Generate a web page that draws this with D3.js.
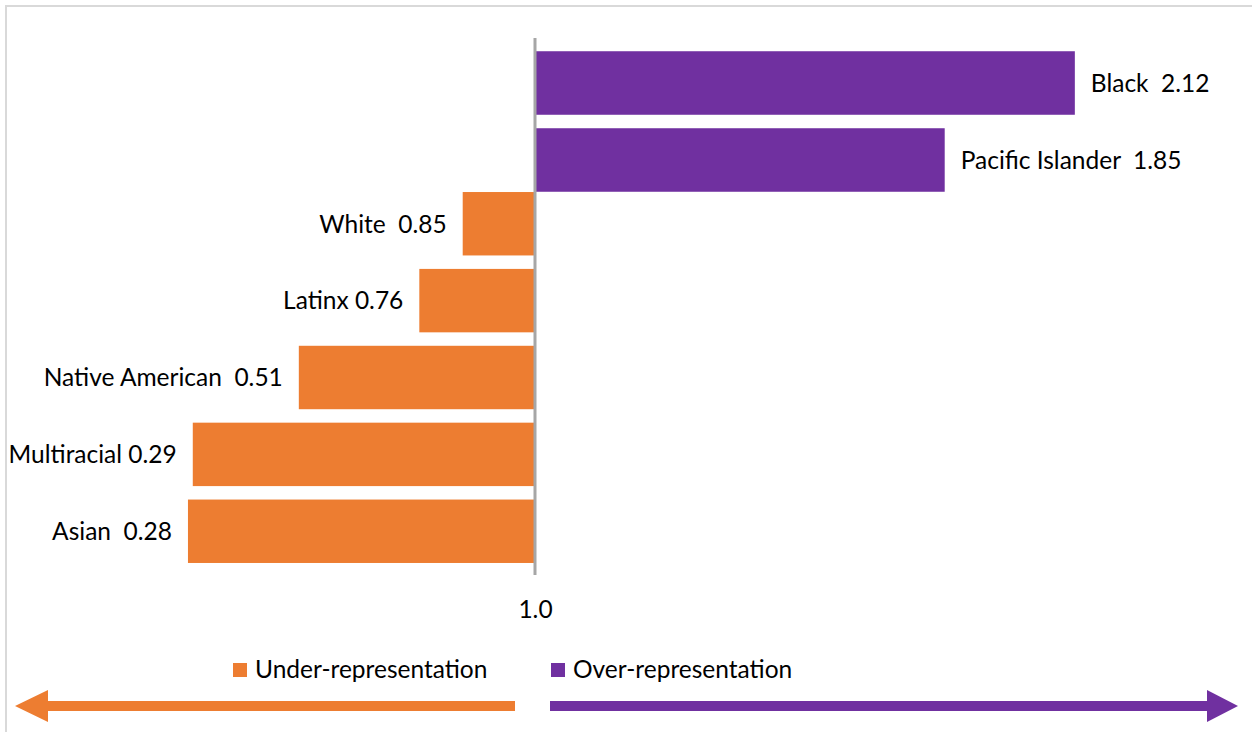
<!DOCTYPE html>
<html>
<head>
<meta charset="utf-8">
<script src="https://cdn.jsdelivr.net/npm/d3@7"></script>
<style>
  html, body { margin: 0; padding: 0; background: #fff; }
  svg { display: block; }
  text { font-family: Lato, "Open Sans", sans-serif; fill: #000; white-space: pre; }
</style>
</head>
<body>
<svg id="chart" width="1252" height="732"></svg>
<script>
// ---- data ----
const overCategories = ["Black", "Pacific Islander"];
const overValues = [2.12, 1.85];
const overLabels = ["Black  2.12", "Pacific Islander  1.85"];

const underCategories = ["White", "Latinx", "Native American", "Multiracial", "Asian"];
const underValues = [0.85, 0.76, 0.51, 0.29, 0.28];
const underLabels = ["White  0.85", "Latinx 0.76", "Native American  0.51", "Multiracial 0.29", "Asian  0.28"];

const tickValues = [1.0];
const legendLabels = ["Under-representation", "Over-representation"];

// ---- styles ----
const ORANGE = "#ED7D31";
const PURPLE = "#7030A0";
const AXIS_GRAY = "#A6A6A6";
const FRAME_GRAY = "#D9D9D9";
const FONT_SIZE = 24.5;

const svg = d3.select("#chart");

// frame
svg.append("rect")
  .attr("x", 6).attr("y", 6)
  .attr("width", 1400).attr("height", 900)
  .attr("fill", "none")
  .attr("stroke", FRAME_GRAY)
  .attr("stroke-width", 2);

// scales
const x = d3.scaleLinear().domain([0, 2.25]).range([53, 1137.5]);
const yOver = d3.scaleBand().domain(overCategories).range([44.5, 198.5]).paddingInner(0.175).paddingOuter(0.0875);
const yUnder = d3.scaleBand().domain(underCategories).range([185.3, 569.7]).paddingInner(0.175).paddingOuter(0.0875);

const overData = overCategories.map((c, i) => ({ c, v: overValues[i], label: overLabels[i] }));
const underData = underCategories.map((c, i) => ({ c, v: underValues[i], label: underLabels[i] }));

// bars
svg.append("g").selectAll("rect").data(overData).join("rect")
  .attr("x", x(1))
  .attr("y", d => yOver(d.c))
  .attr("width", d => x(d.v) - x(1))
  .attr("height", yOver.bandwidth())
  .attr("fill", PURPLE);

svg.append("g").selectAll("rect").data(underData).join("rect")
  .attr("x", d => x(d.v))
  .attr("y", d => yUnder(d.c))
  .attr("width", d => x(1) - x(d.v))
  .attr("height", yUnder.bandwidth())
  .attr("fill", ORANGE);

// labels
svg.append("g").selectAll("text").data(overData).join("text")
  .attr("x", d => x(d.v) + 16)
  .attr("y", d => yOver(d.c) + yOver.bandwidth() / 2)
  .attr("dy", "0.36em")
  .attr("font-size", FONT_SIZE)
  .text(d => d.label);

svg.append("g").selectAll("text").data(underData).join("text")
  .attr("x", d => x(d.v) - 16)
  .attr("y", d => yUnder(d.c) + yUnder.bandwidth() / 2)
  .attr("dy", "0.36em")
  .attr("text-anchor", "end")
  .attr("font-size", FONT_SIZE)
  .text(d => d.label);

// vertical axis line at 1.0
svg.append("line")
  .attr("x1", x(1)).attr("x2", x(1))
  .attr("y1", 38).attr("y2", 575)
  .attr("stroke", AXIS_GRAY)
  .attr("stroke-width", 3);

// tick label
const axis = d3.axisBottom(x).tickValues(tickValues).tickFormat(d3.format(".1f")).tickSize(0).tickPadding(0);
const axisG = svg.append("g").attr("transform", "translate(0,618)").call(axis);
axisG.select(".domain").remove();
axisG.selectAll("text")
  .attr("dy", 0)
  .attr("y", 0)
  .attr("font-size", FONT_SIZE)
  .attr("fill", "#000");
axisG.attr("font-family", null).attr("font-size", null);

// legend
const legend = svg.append("g");
const legendItems = [
  { label: legendLabels[0], color: ORANGE, x: 233 },
  { label: legendLabels[1], color: PURPLE, x: 551 }
];
legendItems.forEach(it => {
  legend.append("rect").attr("x", it.x).attr("y", 663).attr("width", 14).attr("height", 14).attr("fill", it.color);
  legend.append("text").attr("x", it.x + 22).attr("y", 678).attr("font-size", FONT_SIZE).text(it.label);
});

// arrows
const shaftTop = 701, shaftBot = 711, headTop = 690, headBot = 722;
const leftArrow = [
  [15, (headTop + headBot) / 2], [48, headTop], [48, shaftTop], [515, shaftTop],
  [515, shaftBot], [48, shaftBot], [48, headBot]
];
const rightArrow = [
  [1238, (headTop + headBot) / 2], [1207, headTop], [1207, shaftTop], [550, shaftTop],
  [550, shaftBot], [1207, shaftBot], [1207, headBot]
];
const line = d3.line();
svg.append("path").attr("d", line(leftArrow) + "Z").attr("fill", ORANGE);
svg.append("path").attr("d", line(rightArrow) + "Z").attr("fill", PURPLE);
</script>
</body>
</html>
